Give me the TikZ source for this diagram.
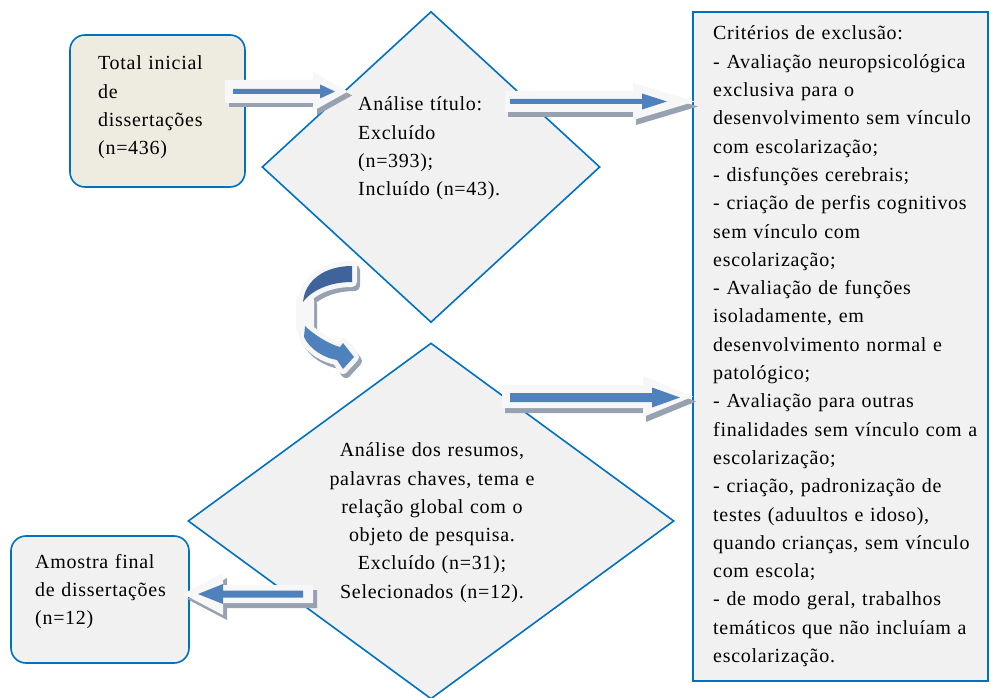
\documentclass[tikz,border=0pt]{standalone}
\usepackage{fontspec}
\setmainfont{Liberation Serif}[LetterSpace=3.5,WordSpace=0.85]
\usetikzlibrary{shapes.geometric}
\definecolor{bordblue}{RGB}{0,112,192}
\definecolor{beige}{RGB}{238,236,225}
\definecolor{panel}{RGB}{241,241,241}
\definecolor{arrowblue}{RGB}{79,129,189}
\definecolor{darkarrow}{RGB}{62,100,155}
\definecolor{lightgrey}{RGB}{247,247,247}
\definecolor{shadowgrey}{RGB}{152,161,176}
\newcommand{\blockarr}[6]{\fill[#1] (#2,-#5)--(#3,-#5)--(#3,-#6)--(#4,0)--(#3,#6)--(#3,#5)--(#2,#5)--cycle;}
\newcommand{\curvebase}[1]{\path[#1] (352,266) .. controls (325,266) and (305,280) .. (303,302) .. controls (312,290) and (330,282) .. (352,282) -- cycle (305,326) .. controls (312,333) and (328,344) .. (340,347) -- (343,343) -- (354,357) -- (343,369) -- (337,360) .. controls (325,358) and (310,350) .. (304,337) -- cycle (301,300) rectangle (309,328);}
\begin{document}
\begin{tikzpicture}[x=1pt,y=-1pt,
  txt/.style={font=\fontsize{20}{28.3}\selectfont, inner sep=0pt, align=left, anchor=base west},
  boxline/.style={draw=bordblue, line width=1.6pt, inner sep=0pt},
  shad/.style={fill=shadowgrey},
  lite/.style={fill=lightgrey},
  blu/.style={fill=arrowblue}]
\useasboundingbox (0,0) rectangle (991,698);
\fill[white] (0,0) rectangle (991,698);

% shapes
\node[boxline, fill=beige, rounded corners=15pt, minimum width=175pt, minimum height=152pt] (total) at (157.5,111) {};
\node[boxline, fill=panel, diamond, minimum width=338pt, minimum height=311pt] (d1) at (431,167) {};
\node[boxline, fill=panel, diamond, minimum width=486pt, minimum height=356pt] (d2) at (431,521) {};
\node[boxline, fill=panel, minimum width=295pt, minimum height=669pt] (crit) at (840.5,346.5) {};
\node[boxline, fill=panel, rounded corners=15pt, minimum width=178pt, minimum height=127pt] (final) at (100,599.5) {};

% texts
\node[txt, text width=140pt] (ttotal) at (98,70) {Total inicial\\de\\dissertações\\(n=436)};
\node[txt, text width=170pt] (td1) at (358,111) {Análise título:\\Excluído\\(n=393);\\Incluído (n=43).};
\node[txt, text width=280pt, align=center, anchor=base] (td2) at (432,456.7) {Análise dos resumos,\\palavras chaves, tema e\\relação global com o\\objeto de pesquisa.\\Excluído (n=31);\\Selecionados (n=12).};
\node[txt, text width=160pt] (tfinal) at (35,568) {Amostra final\\de dissertações\\(n=12)};
\node[txt, text width=280pt] (tcrit) at (713,40) {Critérios de exclusão:\\- Avaliação neuropsicológica\\exclusiva para o\\desenvolvimento sem vínculo\\com escolarização;\\- disfunções cerebrais;\\- criação de perfis cognitivos\\sem vínculo com\\escolarização;\\- Avaliação de funções\\isoladamente, em\\desenvolvimento normal e\\patológico;\\- Avaliação para outras\\finalidades sem vínculo com a\\escolarização;\\- criação, padronização de\\testes (aduultos e idoso),\\quando crianças, sem vínculo\\com escola;\\- de modo geral, trabalhos\\temáticos que não incluíam a\\escolarização.};

% arrow anchor points
\coordinate (a1) at (225,91.5);
\coordinate (a2) at (505,101.5);
\coordinate (a3) at (502,396.5);
\coordinate (a4) at (313,594);

% arrow 1: total -> d1
\begin{scope}[shift={(a1)}]
  \begin{scope}[shift={(4,4)}]\blockarr{shad}{0}{88}{123}{11.5}{19.5}\end{scope}
  \blockarr{lite}{0}{88}{123}{11.5}{19.5}
  \blockarr{blu}{8}{95}{110}{2.5}{7}
\end{scope}
% arrow 2: d1 -> crit
\begin{scope}[shift={(a2)}]
  \begin{scope}[shift={(3,5)}]\blockarr{shad}{0}{128}{190}{10.5}{18.5}\end{scope}
  \blockarr{lite}{0}{128}{190}{10.5}{18.5}
  \blockarr{blu}{5}{137}{162}{2.5}{8}
\end{scope}
% arrow 3: d2 -> crit
\begin{scope}[shift={(a3)}]
  \begin{scope}[shift={(3,5)}]\blockarr{shad}{0}{141}{191}{11.5}{20.5}\end{scope}
  \blockarr{lite}{0}{141}{191}{11.5}{20.5}
  \begin{scope}[yshift=-1pt]\blockarr{blu}{8}{150}{178}{4.5}{10}\end{scope}
\end{scope}
% arrow 4: d2 -> final
\begin{scope}[shift={(a4)}]
  \begin{scope}[shift={(4,5)}]\blockarr{shad}{0}{-90}{-130}{9}{21}\end{scope}
  \blockarr{lite}{0}{-90}{-130}{9}{21}
  \blockarr{blu}{-10}{-90}{-115}{3.5}{10}
\end{scope}

% curved arrow d1 -> d2
\begin{scope}[shift={(3,4)}]
  \curvebase{fill=shadowgrey, draw=shadowgrey, line width=10pt, line join=round}
\end{scope}
\curvebase{fill=lightgrey, draw=lightgrey, line width=10pt, line join=round}
\fill[darkarrow] (352,266) .. controls (325,266) and (305,280) .. (303,302) .. controls (312,290) and (330,282) .. (352,282) -- cycle;
\fill[arrowblue] (305,326) .. controls (312,333) and (328,344) .. (340,347) -- (343,343) -- (354,357) -- (343,369) -- (337,360) .. controls (325,358) and (310,350) .. (304,337) -- cycle;
\end{tikzpicture}
\end{document}
